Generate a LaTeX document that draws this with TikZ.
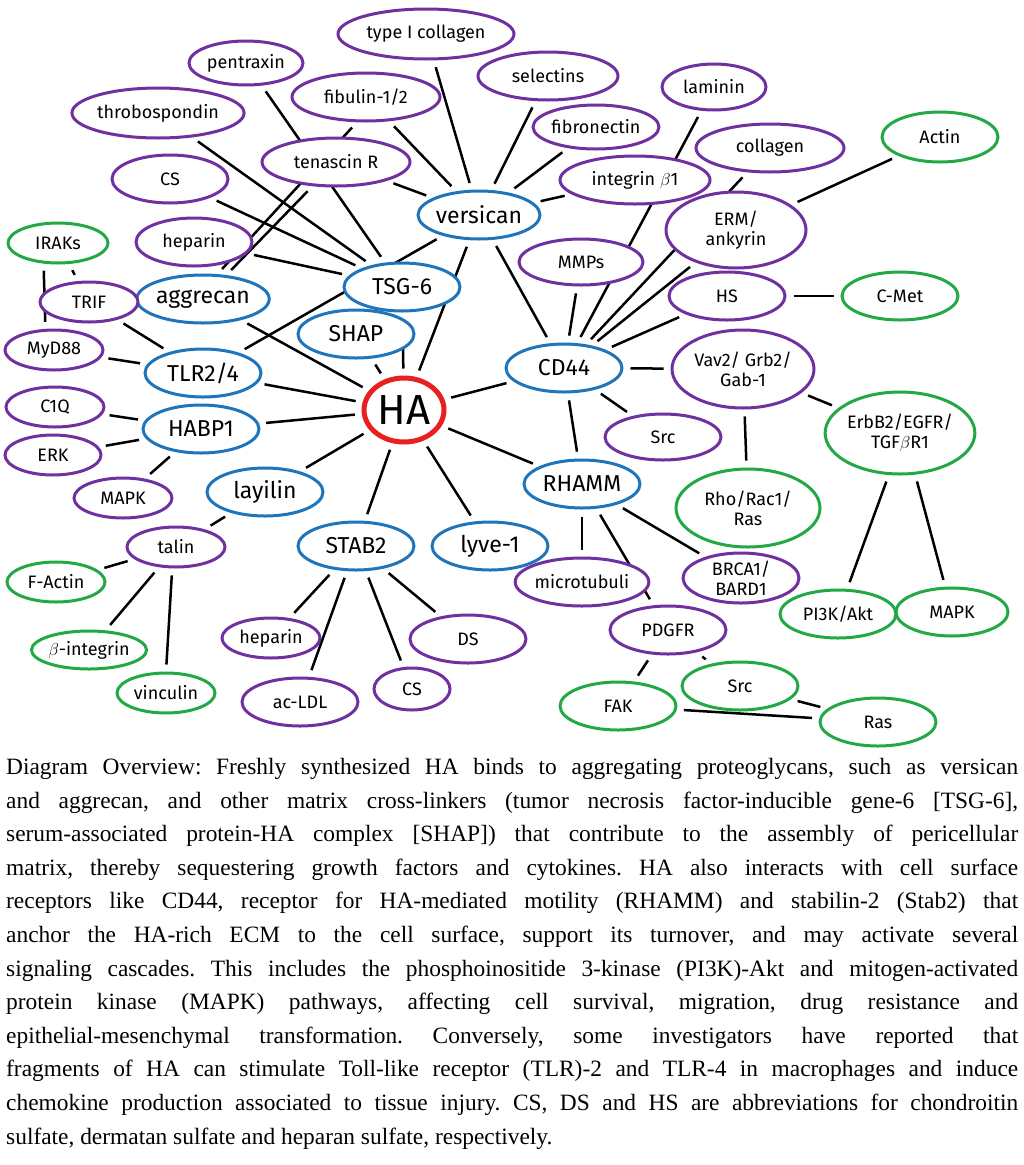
\documentclass[tikz,border=0pt]{standalone}
\usepackage{fontspec}
\setmainfont{Liberation Serif}
\newfontfamily\hand{Fira Sans}
\usetikzlibrary{shapes.geometric,backgrounds}
\definecolor{cblue}{RGB}{31,116,186}
\definecolor{cpur}{RGB}{112,48,160}
\definecolor{cgrn}{RGB}{34,168,68}
\definecolor{cred}{RGB}{232,32,31}
\tikzset{
 base/.style={ellipse,draw,line width=3pt,fill=white,inner sep=0pt,align=center,font=\hand\fontsize{18}{20}\selectfont},
 B/.style={base,draw=cblue,minimum width=116pt,minimum height=48pt,font=\hand\fontsize{23}{25}\selectfont},
 P/.style={base,draw=cpur},
 G/.style={base,draw=cgrn},
 e/.style={line width=2.5pt,shorten >=7pt,shorten <=7pt}
}
\begin{document}
\begin{tikzpicture}[x=1pt,y=-1pt]
\useasboundingbox (0,0) rectangle (1024,1165);
% blue / red
\node[base,draw=cred,line width=5pt,minimum width=80pt,minimum height=64pt,font=\hand\fontsize{42}{44}\selectfont] (HA) at (404,410) {HA};
\node[B] (versican) at (479,215) {versican};
\node[B] (tsg) at (402,287) {TSG-6};
\node[B] (shap) at (356,334) {SHAP};
\node[B] (aggrecan) at (203,299) {aggrecan};
\node[B] (tlr) at (203,373) {TLR2/4};
\node[B] (habp) at (201,429) {HABP1};
\node[B] (layilin) at (265,492) {layilin};
\node[B] (stab) at (356,546) {STAB2};
\node[B] (lyve) at (490,546) {lyve-1};
\node[B] (rhamm) at (582,484) {RHAMM};
\node[B] (cd44) at (564,368) {CD44};
% purple
\node[P,minimum width=176pt,minimum height=50pt] (t1c) at (426,34) {type I collagen};
\node[P,minimum width=114pt,minimum height=44pt] (pentraxin) at (246,63) {pentraxin};
\node[P,minimum width=140pt,minimum height=48pt] (selectins) at (548,76) {selectins};
\node[P,minimum width=148pt,minimum height=48pt] (fibulin) at (366,97) {fibulin-1/2};
\node[P,minimum width=142pt,minimum height=50pt] (throbo) at (158,113) {throbospondin};
\node[P,minimum width=104pt,minimum height=46pt] (laminin) at (714,87) {laminin};
\node[P,minimum width=116pt,minimum height=44pt] (fibronectin) at (596,127) {fibronectin};
\node[P,minimum width=148pt,minimum height=48pt] (tenascin) at (336,162) {tenascin R};
\node[P,minimum width=148pt,minimum height=48pt] (collagen) at (770,148) {collagen};
\node[P,minimum width=116pt,minimum height=48pt] (cs) at (170,179) {CS};
\node[P,minimum width=150pt,minimum height=48pt] (integrin) at (635,180) {integrin $\beta$1};
\node[P,minimum width=140pt,minimum height=76pt] (erm) at (736,230) {ERM/\\ankyrin};
\node[P,minimum width=116pt,minimum height=48pt] (heparin) at (194,242) {heparin};
\node[P,minimum width=124pt,minimum height=46pt] (mmps) at (581,262) {MMPs};
\node[P,minimum width=116pt,minimum height=48pt] (hs) at (727,296) {HS};
\node[P,minimum width=142pt,minimum height=78pt] (vav) at (743,369) {Vav2/ Grb2/\\Gab-1};
\node[P,minimum width=98pt,minimum height=40pt] (trif) at (89,302) {TRIF};
\node[P,minimum width=98pt,minimum height=40pt] (myd) at (54,350) {MyD88};
\node[P,minimum width=98pt,minimum height=40pt] (c1q) at (55,407) {C1Q};
\node[P,minimum width=96pt,minimum height=40pt] (erk) at (53,455) {ERK};
\node[P,minimum width=98pt,minimum height=40pt] (mapkp) at (123,498) {MAPK};
\node[P,minimum width=98pt,minimum height=40pt] (talin) at (176,547) {talin};
\node[P,minimum width=116pt,minimum height=46pt] (src) at (663,437) {Src};
\node[P,minimum width=116pt,minimum height=48pt] (micro) at (582,582) {microtubuli};
\node[P,minimum width=116pt,minimum height=50pt] (brca) at (741,578) {BRCA1/\\BARD1};
\node[P,minimum width=116pt,minimum height=48pt] (pdgfr) at (668,630) {PDGFR};
\node[P,minimum width=98pt,minimum height=40pt] (hep2) at (271,638) {heparin};
\node[P,minimum width=116pt,minimum height=48pt] (ds) at (468,639) {DS};
\node[P,minimum width=76pt,minimum height=42pt] (cs2) at (412,689) {CS};
\node[P,minimum width=116pt,minimum height=48pt] (acldl) at (300,702) {ac-LDL};
% green
\node[G,minimum width=116pt,minimum height=50pt] (actin) at (940,137) {Actin};
\node[G,minimum width=100pt,minimum height=40pt] (irak) at (58,243) {IRAKs};
\node[G,minimum width=116pt,minimum height=48pt] (cmet) at (900,296) {C-Met};
\node[G,minimum width=144pt,minimum height=82pt] (erbb) at (900,433) {ErbB2/EGFR/\\TGF$\beta$R1};
\node[G,minimum width=144pt,minimum height=78pt] (rho) at (748,508) {Rho/Rac1/\\Ras};
\node[G,minimum width=116pt,minimum height=48pt] (pi3k) at (838,614) {PI3K/Akt};
\node[G,minimum width=112pt,minimum height=48pt] (mapkg) at (952,612) {MAPK};
\node[G,minimum width=98pt,minimum height=40pt] (factin) at (56,582) {F-Actin};
\node[G,minimum width=98pt,minimum height=38pt] (bint) at (89,650) {$\beta$-integrin};
\node[G,minimum width=98pt,minimum height=40pt] (vinc) at (166,693) {vinculin};
\node[G,minimum width=116pt,minimum height=48pt] (fak) at (618,706) {FAK};
\node[G,minimum width=116pt,minimum height=48pt] (src2) at (740,686) {Src};
\node[G,minimum width=116pt,minimum height=48pt] (ras) at (878,722) {Ras};
\begin{scope}[on background layer]
\foreach \n in {versican,tsg,shap,aggrecan,tlr,habp,layilin,stab,lyve,rhamm,cd44}
  \draw[e] (HA) -- (\n);
\foreach \n in {t1c,selectins,fibronectin,integrin,fibulin,tenascin,tlr,cd44}
  \draw[e] (versican) -- (\n);
\foreach \n in {pentraxin,throbo,cs,heparin}
  \draw[e] (\n) -- (tsg);
\draw[e] (tenascin) -- (aggrecan);
\draw[e] (fibulin.-110) -- (aggrecan.60);
\foreach \n in {laminin,collagen,erm,hs,mmps,vav,src,rhamm}
  \draw[e] (cd44) -- (\n);
\draw[e] (erm) -- (actin);
\draw[e] (hs) -- (cmet);
\draw[e] (vav) -- (erbb);
\draw[e] (vav) -- (rho);
\draw[e] (erbb.-105) -- (pi3k);
\draw[e] (erbb.-70) -- (mapkg);
\foreach \n in {micro,pdgfr,brca} \draw[e] (rhamm) -- (\n);
\draw[e] (pdgfr) -- (fak);
\draw[e] (pdgfr) -- (src2);
\draw[e] (src2) -- (ras);
\draw[e] (fak) -- (ras);
\draw[e] (irak) -- (trif);
\draw[e] (irak.-125) -- (myd.112);
\draw[e] (trif) -- (tlr);
\draw[e] (myd) -- (tlr);
\foreach \n in {c1q,erk,mapkp} \draw[e] (\n) -- (habp);
\draw[e] (layilin) -- (talin);
\draw[e] (talin) -- (factin);
\draw[e] (talin) -- (bint);
\draw[e] (talin.-100) -- (vinc.north);
\foreach \n in {hep2,acldl,cs2,ds} \draw[e] (stab) -- (\n);
\end{scope}
\node[anchor=north west,inner sep=0pt] (cap) at (6,758) {\begin{minipage}{1012pt}\setlength\parindent{0pt}\frenchspacing\fontsize{23.4}{33.6}\selectfont
\makebox[\linewidth][s]{Diagram Overview: Freshly synthesized HA binds to aggregating proteoglycans, such as versican}\par
\makebox[\linewidth][s]{and aggrecan, and other matrix cross-linkers (tumor necrosis factor-inducible gene-6 [TSG-6],}\par
\makebox[\linewidth][s]{serum-associated protein-HA complex [SHAP]) that contribute to the assembly of pericellular}\par
\makebox[\linewidth][s]{matrix, thereby sequestering growth factors and cytokines. HA also interacts with cell surface}\par
\makebox[\linewidth][s]{receptors like CD44, receptor for HA-mediated motility (RHAMM) and stabilin-2 (Stab2) that}\par
\makebox[\linewidth][s]{anchor the HA-rich ECM to the cell surface, support its turnover, and may activate several}\par
\makebox[\linewidth][s]{signaling cascades. This includes the phosphoinositide 3-kinase (PI3K)-Akt and mitogen-activated}\par
\makebox[\linewidth][s]{protein kinase (MAPK) pathways, affecting cell survival, migration, drug resistance and}\par
\makebox[\linewidth][s]{epithelial-mesenchymal transformation. Conversely, some investigators have reported that}\par
\makebox[\linewidth][s]{fragments of HA can stimulate Toll-like receptor (TLR)-2 and TLR-4 in macrophages and induce}\par
\makebox[\linewidth][s]{chemokine production associated to tissue injury. CS, DS and HS are abbreviations for chondroitin}\par
sulfate, dermatan sulfate and heparan sulfate, respectively.\par
\end{minipage}};
\end{tikzpicture}
\end{document}
